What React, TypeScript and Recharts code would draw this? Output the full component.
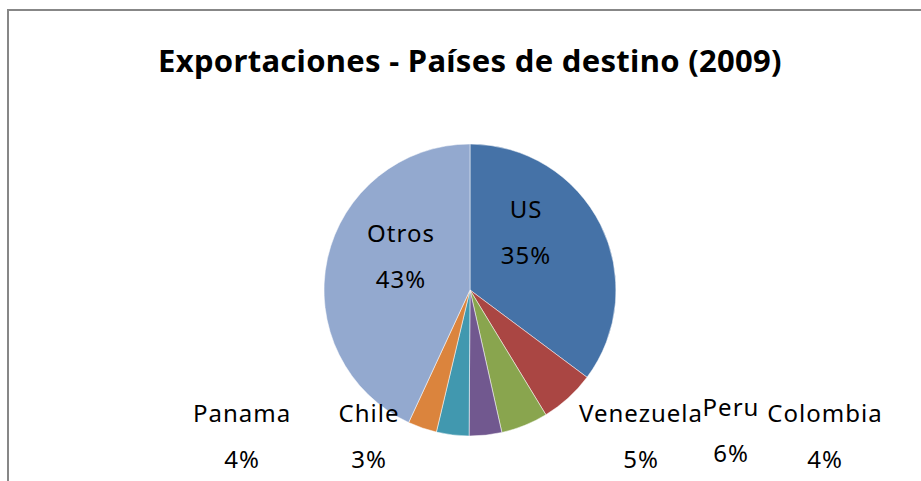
import { PieChart, Pie, Cell } from 'recharts';

const paises = ['US', 'Peru', 'Venezuela', 'Colombia', 'Panama', 'Chile', 'Otros'];
const participacion = [35.2, 6.1, 5.2, 3.6, 3.6, 3.2, 43.1];

const data = paises.map((name, i) => ({ name, value: participacion[i] }));

const COLORS = ['#4572A7', '#AA4643', '#89A54E', '#71588F', '#4198AF', '#DB843D', '#93A9CF'];

// where the excel data labels were dragged to (baseline of first line)
const labelPos: Record<string, [number, number]> = {
  US: [526, 218],
  Otros: [401, 242],
  Peru: [731, 416],
  Venezuela: [641, 422],
  Colombia: [825, 422],
  Panama: [242, 422],
  Chile: [369, 422],
};

const FONT = '"Noto Sans", sans-serif';

const renderLabel = (props: any) => {
  const name = props.name ?? props.payload?.name;
  const pos = labelPos[name];
  if (!pos) return null;
  const pct = Math.round(props.percent * 100);
  return (
    <text
      x={pos[0]}
      y={pos[1]}
      textAnchor="middle"
      fill="#000"
      fontFamily={FONT}
      fontSize={24}
      letterSpacing={1}
    >
      <tspan x={pos[0]} y={pos[1]}>{name}</tspan>
      <tspan x={pos[0]} y={pos[1] + 46}>{pct}%</tspan>
    </text>
  );
};

export default function App() {
  return (
    <div
      style={{
        position: 'absolute',
        left: 0,
        top: 0,
        width: 921,
        height: 481,
        overflow: 'hidden',
        background: '#fff',
      }}
    >
      <div
        style={{
          position: 'absolute',
          left: 7,
          top: 9,
          width: 1000,
          height: 600,
          borderLeft: '2px solid #878787',
          borderTop: '2px solid #878787',
        }}
      />
      <div
        style={{
          position: 'absolute',
          left: 0,
          top: 40,
          width: 940,
          textAlign: 'center',
          fontFamily: FONT,
          fontWeight: 700,
          fontSize: 31,
          letterSpacing: 0.3,
          lineHeight: '40px',
          color: '#000',
        }}
      >
        Exportaciones - Países de destino (2009)
      </div>
      <div style={{ position: 'absolute', left: 0, top: 0 }}>
        <PieChart width={921} height={481} margin={{ top: 0, right: 0, bottom: 0, left: 0 }}>
          <Pie
            data={data}
            dataKey="value"
            nameKey="name"
            cx={470}
            cy={290}
            outerRadius={146}
            startAngle={90}
            endAngle={-270}
            stroke="#ffffff"
            strokeWidth={0.5}
            label={renderLabel}
            labelLine={false}
            isAnimationActive={false}
          >
            {data.map((d, i) => (
              <Cell key={d.name} fill={COLORS[i]} />
            ))}
          </Pie>
        </PieChart>
      </div>
    </div>
  );
}
